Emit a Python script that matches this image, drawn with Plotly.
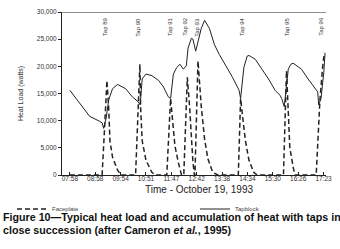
import plotly.graph_objects as go

# tick labels (equally spaced on the original time axis)
time_labels = ["07:58", "08:58", "09:54", "10:51", "11:47", "12:42",
               "13:38", "14:34", "15:30", "16:26", "17:23"]

# Tapblock heat load (solid) - x in tick-label index units
tap_x = [0.00, 0.39, 0.78, 1.17, 1.27, 1.33, 1.43, 1.53, 1.68, 1.88, 2.20, 2.46,
         2.69, 2.77, 2.85, 3.00, 3.23, 3.50, 3.69, 3.88, 3.97, 4.08, 4.21, 4.34,
         4.47, 4.59, 4.66, 4.79, 4.85, 4.96, 5.05, 5.18, 5.31, 5.50, 5.70, 5.89,
         6.15, 6.41, 6.67, 6.73, 6.86, 6.99, 7.06, 7.31, 7.57, 7.83, 8.09, 8.28,
         8.35, 8.45, 8.61, 8.71, 8.80, 9.13, 9.39, 9.64, 9.77, 9.81, 9.90, 10.01,
         10.06]
tap_y = [15590, 13190, 10790, 9890, 9590, 8580, 10490, 13790, 15880, 16670, 15880, 14390,
         13490, 12900, 17680, 18580, 18290, 17390, 16190, 14390, 14090, 18580, 19780, 20380,
         19480, 20090, 23380, 25180, 25000, 22790, 24580, 26980, 28480, 26980, 23980, 22180,
         20090, 17990, 15590, 14090, 19780, 21890, 22000, 21290, 19480, 17680, 15590, 14690,
         14090, 12600, 19480, 20380, 20570, 19480, 17680, 16190, 15290, 12900, 14090, 18880,
         22480]

# Faceplate heat load (dashed)
face_x = [0.00, 1.27, 1.36, 1.46, 1.53, 1.58, 1.68, 1.88, 2.01,
          2.59, 2.69, 2.76, 2.79, 2.85, 3.00, 3.23, 3.38,
          3.82, 3.97, 4.05, 4.14, 4.27, 4.40,
          4.49, 4.63, 4.72, 4.79, 4.85, 4.91,
          4.93, 5.05, 5.18, 5.31, 5.44, 5.63, 5.83,
          6.64, 6.73, 6.80, 6.92, 7.06, 7.25, 7.38,
          8.42, 8.54, 8.61, 8.67, 8.80, 8.87,
          9.71, 9.80, 9.86, 9.97, 10.03]
face_y = [0, 0, 8000, 17390, 12290, 6300, 3290, 900, 0,
          0, 12000, 20380, 12290, 6300, 2700, 500, 0,
          0, 14090, 9590, 5400, 2400, 0,
          0, 17990, 12590, 6600, 2400, 0,
          0, 21000, 12590, 6600, 3000, 500, 0,
          0, 14090, 11150, 6300, 2700, 500, 0,
          0, 19190, 11100, 5090, 1500, 0,
          0, 8000, 14000, 20090, 22480]

# Tap annotations
tap_names = ["Tap 89", "Tap 90", "Tap 91", "Tap 92", "Tap 93", "Tap 94", "Tap 95", "Tap 96"]
tap_pos = [1.36, 2.68, 3.92, 4.54, 5.01, 6.76, 8.54, 9.90]

y_ticks = [0, 5000, 10000, 15000, 20000, 25000, 30000]

caption_lines = ["<b>Figure 10—Typical heat load and accumulation of heat with taps in</b>",
                 "<b>close succession (after Cameron <i>et al.</i>, 1995)</b>"]

FONT = "Liberation Sans"
INK = "#222"

fig = go.Figure()
fig.add_trace(go.Scatter(x=face_x, y=face_y, mode="lines", name="Faceplate",
                         legend="legend",
                         line=dict(color=INK, width=1.5, dash="5px,3px")))
fig.add_trace(go.Scatter(x=tap_x, y=tap_y, mode="lines", name="Tapblock",
                         legend="legend2",
                         line=dict(color=INK, width=1)))

for name, xp in zip(tap_names, tap_pos):
    fig.add_annotation(x=xp, y=29400, xref="x", yref="y", text=name, textangle=-90,
                       showarrow=False, yanchor="top", xanchor="center",
                       font=dict(family=FONT, size=6, color="#333"))

# top frame line
fig.add_shape(type="line", xref="paper", yref="y", x0=0, x1=1, y0=30000, y1=30000,
              line=dict(color=INK, width=1))

fig.add_annotation(x=0.52, y=-0.09, xref="paper", yref="paper", yanchor="middle",
                   text="Time - October 19, 1993", showarrow=False,
                   font=dict(family=FONT, size=10, color="#222"))

for line, yp in zip(caption_lines, [-0.2575, -0.335]):
    fig.add_annotation(x=-62/268, y=yp, xref="paper", yref="paper",
                       xanchor="left", yanchor="middle", align="left",
                       text=line, showarrow=False,
                       font=dict(family=FONT, size=10.7, color="#111"))

leg_common = dict(orientation="h", yanchor="middle", xanchor="left",
                  xref="container", yref="container",
                  font=dict(family=FONT, size=6, color="#444"),
                  bgcolor="rgba(0,0,0,0)", itemwidth=30)

fig.update_layout(
    width=340, height=249,
    margin=dict(l=62, r=10, t=8, b=74),
    paper_bgcolor="white", plot_bgcolor="white",
    showlegend=True,
    legend=dict(x=12/340, y=40/249, **leg_common),
    legend2=dict(x=195/340, y=40/249, **leg_common),
    xaxis=dict(range=[-0.311, 10.097], tickvals=list(range(len(time_labels))),
               ticktext=time_labels, showgrid=False, zeroline=False,
               showline=True, linecolor=INK, linewidth=1,
               ticks="inside", ticklen=3, tickcolor=INK, ticklabelstandoff=-3,
               tickfont=dict(family=FONT, size=6.5, color="#333")),
    yaxis=dict(range=[0, 30000], tickvals=y_ticks, tickformat=",d",
               showgrid=False, zeroline=False,
               showline=True, linecolor=INK, linewidth=1,
               ticks="outside", ticklen=3, tickcolor=INK,
               tickfont=dict(family=FONT, size=6.5, color="#333"),
               title=dict(text="Heat Load (watts)", standoff=12,
                          font=dict(family=FONT, size=7, color="#333"))),
)

fig.write_html("out.html", config={"displayModeBar": False},
               post_script="document.body.style.margin='0';")
